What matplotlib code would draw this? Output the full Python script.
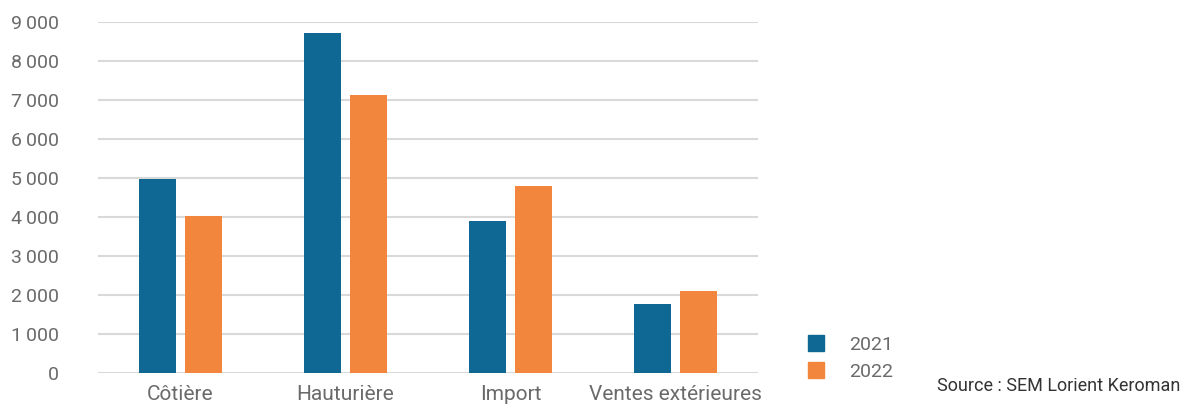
import numpy as np
import matplotlib.pyplot as plt
from matplotlib.lines import Line2D

categories = ["Côtière", "Hauturière", "Import", "Ventes extérieures"]
values_2021 = [4970, 8710, 3890, 1770]
values_2022 = [4020, 7130, 4790, 2110]
years = ["2021", "2022"]

blue = "#0e6893"
orange = "#f3863d"
grey_text = "#6a6a6a"

plt.rcParams["font.family"] = ["Roboto", "DejaVu Sans"]

fig = plt.figure(figsize=(11.84, 4.05), dpi=100)
ax = fig.add_axes([98 / 1184, 1 - 373 / 405, 660 / 1184, 351 / 405])

x = np.arange(len(categories))
w = 0.224
off = 0.142
ax.bar(x - off, values_2021, w, color=blue, zorder=3)
ax.bar(x + off, values_2022, w, color=orange, zorder=3)

ax.set_xlim(-0.5, len(categories) - 0.5)
ax.set_ylim(0, 9000)
ax.set_yticks(np.arange(0, 9001, 1000))
ax.set_yticklabels([f"{v:,}".replace(",", "\u2009") for v in range(0, 9001, 1000)])
ax.set_xticks(x)
ax.set_xticklabels(categories)

ax.grid(axis="y", color="#d9d9d9", linewidth=1.5, zorder=0)
for s in ax.spines.values():
    s.set_visible(False)
ax.tick_params(axis="y", length=0, pad=28, labelsize=14, labelcolor=grey_text)
ax.tick_params(axis="x", length=0, pad=9, labelsize=15, labelcolor=grey_text)

handles = [Line2D([], [], marker="s", linestyle="none", markersize=11,
                  markerfacecolor=c, markeredgecolor=c) for c in (blue, orange)]
fig.legend(handles, years, loc="upper left", bbox_to_anchor=(789 / 1184, 1 - 318 / 405),
           frameon=False, fontsize=14, labelcolor=grey_text, handletextpad=1.2,
           labelspacing=0.5, handlelength=1.0)

fig.text(1180 / 1184, 1 - 386 / 405, "Source : SEM Lorient Keroman", ha="right",
         va="center", fontsize=13, color="#333333")

fig.savefig("out.png", dpi=100, facecolor="white")
